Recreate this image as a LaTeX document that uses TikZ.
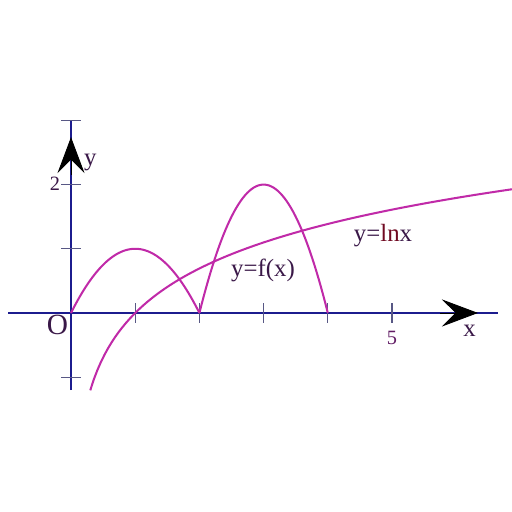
\documentclass[tikz,border=0pt]{standalone}
\usepackage{fontspec}
\setmainfont{Liberation Serif}
\usetikzlibrary{arrows.meta}

\definecolor{axisblue}{HTML}{1C1C8E}
\definecolor{curvepink}{HTML}{C02AA8}
\definecolor{labeldark}{HTML}{3A1848}
\definecolor{labelred}{HTML}{700A22}

\tikzset{
    axis/.style = {axisblue, line width=0.9pt},
    tick/.style = {gray!60!axisblue, line width=0.6pt},
    curve/.style = {curvepink, line width=0.9pt},
    bigtip/.style = {-{Stealth[length=16pt, width=12pt, inset=6pt]}, black, line width=0.4pt}
}

\begin{document}
\begin{tikzpicture}[scale = 1]
    \useasboundingbox (-1.106,-3.100) rectangle (6.869,4.875);
    % Origin
    \coordinate (O) at (0,0);
    % Axes
    \draw[axis] (-0.98,0) -- (6.65,0);
    \draw[axis] (0,-1.2) -- (0,3.0);
    % Ticks
    \foreach \i in {1,...,5}
        \draw[tick] (\i,-0.15) -- (\i,0.15);
    \foreach \j in {-1,1,2,3}
        \draw[tick] (-0.15,\j) -- (0.15,\j);
    % Arrow heads
    \draw[bigtip] (5.75,0) -- (6.34,0);
    \draw[bigtip] (0,2.15) -- (0,2.74);

    % Draw y = f(x)
    \draw[curve] plot[domain=0:2, samples=60] (\x,{\x*(2-\x)});
    \draw[curve] plot[domain=2:4, samples=60] (\x,{2*(\x-2)*(4-\x)});
    % Draw y = ln x
    \draw[curve] plot[domain=0.30:6.87, samples=120] (\x,{ln(\x)});

    % Labels
    \node[labeldark, font=\fontsize{13}{15}\selectfont] (lo) at (-0.21,-0.19) {O};
    \node[labeldark, font=\fontsize{11}{13}\selectfont] (lx) at (6.21,-0.27) {x};
    \node[labeldark, font=\fontsize{11}{13}\selectfont] (ly) at (0.30,2.34) {y};
    \node[labeldark, font=\fontsize{9}{11}\selectfont] (l2) at (-0.25,2.02) {2};
    \node[labeldark!70!curvepink, font=\fontsize{9}{11}\selectfont] (l5) at (5.0,-0.39) {5};
    \node[labeldark, font=\fontsize{11}{13}\selectfont] (lf) at (2.99,0.67) {y=f(x)};
    \node[font=\fontsize{11}{13}\selectfont] (lln) at (4.86,1.20) {\textcolor{labeldark}{y=}\textcolor{labelred}{ln}\textcolor{labeldark}{x}};
\end{tikzpicture}
\end{document}
